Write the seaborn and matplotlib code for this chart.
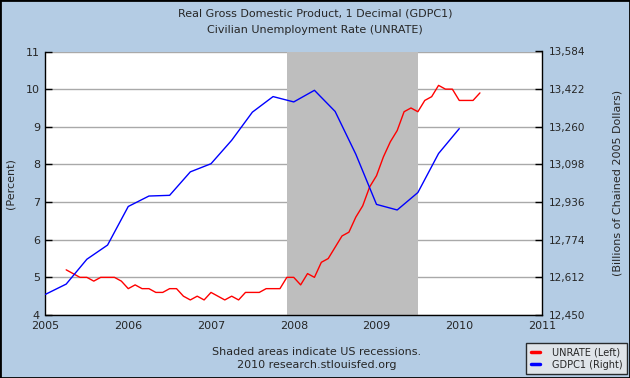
import numpy as np
import pandas as pd
import matplotlib
matplotlib.use("Agg")
import matplotlib.pyplot as plt
import seaborn as sns
from matplotlib.patches import Rectangle
from matplotlib.ticker import FuncFormatter

# Civilian unemployment rate, monthly, Apr 2005 - Apr 2010 (percent)
unrate = [
    5.2, 5.1, 5.0, 5.0, 4.9, 5.0, 5.0, 5.0, 4.9,            # 2005 Apr-Dec
    4.7, 4.8, 4.7, 4.7, 4.6, 4.6, 4.7, 4.7, 4.5, 4.4, 4.5, 4.4,  # 2006
    4.6, 4.5, 4.4, 4.5, 4.4, 4.6, 4.6, 4.6, 4.7, 4.7, 4.7, 5.0,  # 2007
    5.0, 4.8, 5.1, 5.0, 5.4, 5.5, 5.8, 6.1, 6.2, 6.6, 6.9, 7.4,  # 2008
    7.7, 8.2, 8.6, 8.9, 9.4, 9.5, 9.4, 9.7, 9.8, 10.1, 10.0, 10.0,  # 2009
    9.7, 9.7, 9.7, 9.9,                                      # 2010 Jan-Apr
]
unrate_start_month = 3  # April 2005 (months after Jan 2005)

# Real GDP, quarterly, 2005Q1 - 2010Q1 (billions of chained 2005 dollars)
gdp = [
    12539, 12583, 12690, 12751,
    12917, 12962, 12965, 13066,
    13101, 13202, 13323, 13390,
    13367, 13417, 13326, 13142,
    12926, 12902, 12977, 13145,
    13252,
]

left_ticks = [4, 5, 6, 7, 8, 9, 10, 11]
right_ticks = [12450, 12612, 12774, 12936, 13098, 13260, 13422, 13584]
year_ticks = [2005, 2006, 2007, 2008, 2009, 2010, 2011]
recession = (2007 + 11 / 12, 2009.5)

unrate_df = pd.DataFrame({
    "year": 2005 + (unrate_start_month + np.arange(len(unrate))) / 12,
    "UNRATE": unrate,
})
gdp_df = pd.DataFrame({
    "year": 2005 + np.arange(len(gdp)) / 4,
    "GDPC1": gdp,
})

bg = "#B4CCE4"
sns.set_style("white")
plt.rcParams["font.family"] = ["DejaVu Sans"]
plt.rcParams["font.size"] = 8

fig = plt.figure(figsize=(6.3, 3.78), dpi=100, facecolor=bg)
ax = fig.add_axes([45.5 / 630, 1 - 315 / 378, (542 - 45.5) / 630, (315 - 51.5) / 378])
ax.set_facecolor("white")
ax.set_axisbelow(True)

ax.axvspan(*recession, color="#BEBEBE", lw=0, zorder=1)
sns.lineplot(data=unrate_df, x="year", y="UNRATE", ax=ax, color="red", lw=1, legend=False, zorder=3)

ax.set_xlim(2005, 2011)
ax.set_ylim(4, 11)
ax.set_xticks(year_ticks)
ax.set_xticklabels([str(y) for y in year_ticks])
ax.set_yticks(left_ticks)
ax.yaxis.grid(True, color="#A9A9A9", lw=1)
ax.xaxis.grid(False)
ax.tick_params(direction="in", length=5, width=1, color="black", labelsize=8, pad=4)
ax.set_xlabel("")
ax.set_ylabel("(Percent)", fontsize=8)
ax.yaxis.set_label_coords((16 - 45.5) / 496.5, 0.5)
for s in ["left", "bottom"]:
    ax.spines[s].set_color("black")
    ax.spines[s].set_linewidth(1)
ax.spines["top"].set_visible(False)
ax.spines["right"].set_visible(False)

ax2 = ax.twinx()
sns.lineplot(data=gdp_df, x="year", y="GDPC1", ax=ax2, color="blue", lw=1, legend=False)
ax2.set_ylim(right_ticks[0], right_ticks[-1])
ax2.set_yticks(right_ticks)
ax2.yaxis.set_major_formatter(FuncFormatter(lambda v, p: f"{v:,.0f}"))
ax2.tick_params(direction="in", length=5, width=1, color="black", labelsize=7.5, pad=5)
ax2.set_ylabel("(Billions of Chained 2005 Dollars)", fontsize=8)
ax2.yaxis.set_label_coords((613 - 45.5) / 496.5, 0.5)
ax2.grid(False)
for s in ["left", "bottom", "top"]:
    ax2.spines[s].set_visible(False)
ax2.spines["right"].set_color("black")
ax2.spines["right"].set_linewidth(1)

fig.text(0.5, 1 - 14 / 378, "Real Gross Domestic Product, 1 Decimal (GDPC1)", ha="center", va="center", fontsize=8)
fig.text(0.5, 1 - 30 / 378, "Civilian Unemployment Rate (UNRATE)", ha="center", va="center", fontsize=8)
fig.text(317 / 630, 1 - 352 / 378, "Shaded areas indicate US recessions.", ha="center", va="center", fontsize=8)
fig.text(317 / 630, 1 - 364.5 / 378, "2010 research.stlouisfed.org", ha="center", va="center", fontsize=8)

handles = [ax.get_lines()[0], ax2.get_lines()[0]]
leg = fig.legend(handles, ["UNRATE (Left)", "GDPC1 (Right)"], loc="lower right",
                 bbox_to_anchor=(627 / 630, 4 / 378), fontsize=7, frameon=True,
                 fancybox=False, facecolor="#EBEBEB", edgecolor="black",
                 handlelength=1.0, handletextpad=1.2, borderpad=0.45, labelspacing=0.25,
                 borderaxespad=0)
leg.get_frame().set_linewidth(1)
for h in leg.legend_handles:
    h.set_linewidth(2.5)

fig.patches.append(Rectangle((0, 0), 1, 1, transform=fig.transFigure, fill=False,
                             edgecolor="black", lw=2))

fig.savefig("out.png", dpi=100, facecolor=bg)
